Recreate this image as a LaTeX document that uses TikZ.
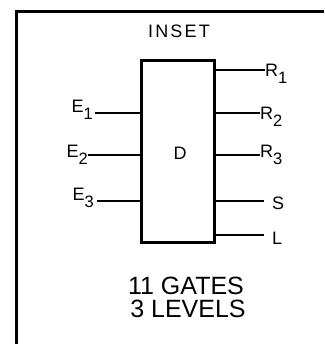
\documentclass[tikz,border=0pt]{standalone}
\usepackage{fontspec}
\setmainfont{Liberation Sans}
\newcommand{\lbl}[2]{#1\raisebox{-7pt}{\fontsize{16.5}{16.5}\selectfont #2}}
\begin{document}
\begin{tikzpicture}[x=1pt,y=-1pt,
  frameline/.style={line width=3pt},
  boxline/.style={line width=3pt},
  wire/.style={line width=1.8pt},
  lab/.style={inner sep=0pt,font=\fontsize{18}{18}\selectfont},
  big/.style={inner sep=0pt,font=\fontsize{25}{25}\selectfont}]
\useasboundingbox (0,0) rectangle (324,344);
% frame (left and top edges)
\coordinate (fb) at (16,344);
\coordinate (fc) at (16,11.5);
\coordinate (fr) at (324,11.5);
\draw[frameline] (fb) -- (fc) -- (fr);
\node[lab,anchor=base] (inset) at (179,38) {\addfontfeature{LetterSpace=12}INSET};
% box D
\node[draw,boxline,minimum width=73pt,minimum height=181pt,inner sep=0pt] (D) at (177.5,151.5) {};
\node[lab,anchor=base] (dl) at (180,160) {D};
% inputs
\coordinate (e1) at (141,113);
\coordinate (e2) at (141,155);
\coordinate (e3) at (141,201);
\node[lab,anchor=base east] (E1) at (93,113) {\lbl{E}{1}};
\node[lab,anchor=base east] (E2) at (88,158) {\lbl{E}{2}};
\node[lab,anchor=base east] (E3) at (94,200) {\lbl{E}{3}};
\draw[wire] (E1.base east |- e1) ++(2,0) -- (e1);
\draw[wire] (E2.base east |- e2) -- (e2);
\draw[wire] (E3.base east |- e3) ++(3,0) -- (e3);
% outputs
\coordinate (r1) at (214,70);
\coordinate (r2) at (214,113);
\coordinate (r3) at (214,155);
\coordinate (s) at (214,201);
\coordinate (l) at (214,235);
\node[lab,anchor=base west] (R1) at (265,77) {\lbl{R}{1}};
\node[lab,anchor=base west] (R2) at (260,120) {\lbl{R}{2}};
\node[lab,anchor=base west] (R3) at (260,158) {\lbl{R}{3}};
\node[lab,anchor=base west] (S) at (272,209) {S};
\node[lab,anchor=base west] (L) at (272,244) {L};
\draw[wire] (r1) -- (r1 -| R1.west) ++(-1,0);
\draw[wire] (r2) -- (r2 -| R2.west);
\draw[wire] (r3) -- (r3 -| R3.west);
\draw[wire] (s) -- (264,201);
\draw[wire] (l) -- (264,235);
% caption
\node[big,anchor=base] (g) at (186,294) {11 GATES};
\node[big,anchor=base] (lv) at (188,317) {3 LEVELS};
\end{tikzpicture}
\end{document}
